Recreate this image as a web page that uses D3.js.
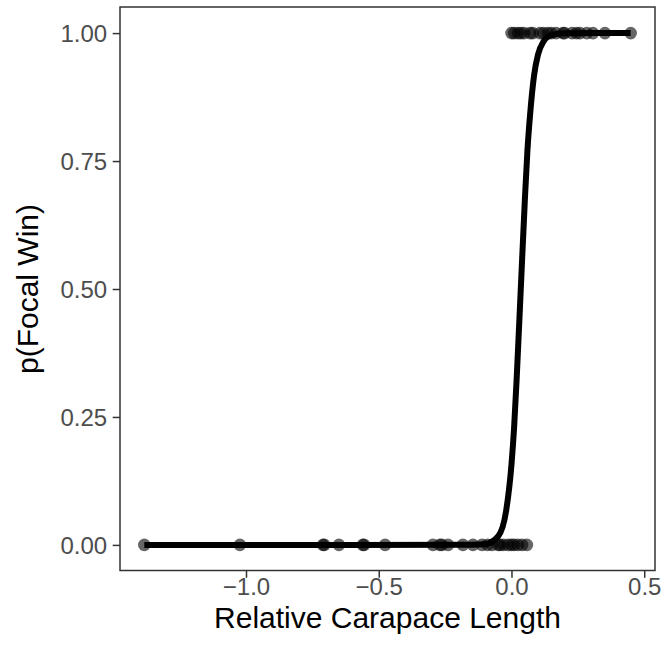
<!DOCTYPE html>
<html>
<head>
<meta charset="utf-8">
<script src="https://cdn.jsdelivr.net/npm/d3@7"></script>
<style>
  html, body { margin: 0; padding: 0; background: #fff; }
  svg { display: block; font-family: "Liberation Sans", Arial, Helvetica, sans-serif; }
</style>
</head>
<body>
<svg id="chart" width="666" height="650"></svg>
<script>
// Observed outcomes: relative carapace length for losses (0) and wins (1)
const lossX = [-1.383, -1.023, -0.71, -0.705, -0.65, -0.56, -0.555, -0.476, -0.296, -0.27, -0.262, -0.239, -0.183, -0.145, -0.111, -0.09, -0.073, -0.05, -0.043, -0.03, -0.013, 0.0, 0.01, 0.024, 0.04, 0.058];
const winX = [0.0, 0.01, 0.024, 0.035, 0.047, 0.07, 0.08, 0.107, 0.12, 0.137, 0.15, 0.168, 0.194, 0.2, 0.228, 0.245, 0.258, 0.284, 0.307, 0.352, 0.449];
// Fitted probability curve
const curveX = [-1.383, -0.6, -0.2, -0.1, -0.05, -0.02, 0.0, 0.01, 0.02, 0.035, 0.05, 0.06, 0.07, 0.085, 0.1, 0.12, 0.15, 0.2, 0.3, 0.449];
const curveP = [0.0, 0.0, 0.0001, 0.0015, 0.017, 0.067, 0.157, 0.23, 0.33, 0.5, 0.67, 0.77, 0.84, 0.917, 0.958, 0.983, 0.996, 0.9995, 1.0, 1.0];
const xTicks = [-1.0, -0.5, 0.0, 0.5];
const yTicks = [0.00, 0.25, 0.50, 0.75, 1.00];

const svg = d3.select("#chart");
const L = 120, R = 655, T = 7.5, B = 570.5;

const allX = lossX.concat(winX, curveX);
const xmin = d3.min(allX), xmax = d3.max(allX);
const xpad = (xmax - xmin) * 0.05;
const x = d3.scaleLinear().domain([xmin - xpad, xmax + xpad]).range([L, R]);
const y = d3.scaleLinear().domain([-0.05, 1.05]).range([B, T]);

// points
const pts = lossX.map(v => ({x: v, y: 0})).concat(winX.map(v => ({x: v, y: 1})));
svg.append("g").selectAll("circle").data(pts).join("circle")
  .attr("cx", d => x(d.x)).attr("cy", d => y(d.y)).attr("r", 6.3)
  .attr("fill", "#000").attr("fill-opacity", 0.6);

// curve
const line = d3.line().x(d => x(d[0])).y(d => y(d[1])).curve(d3.curveMonotoneX);
svg.append("path").datum(curveX.map((v, i) => [v, curveP[i]]))
  .attr("d", line).attr("fill", "none").attr("stroke", "#000")
  .attr("stroke-width", 6).attr("stroke-linecap", "butt").attr("stroke-linejoin", "round");

// panel border
svg.append("rect").attr("x", L).attr("y", T - 0.5).attr("width", R - L).attr("height", B - T + 0.5)
  .attr("fill", "none").attr("stroke", "#333").attr("stroke-width", 1.5);

const fmtX = v => (v < 0 ? "\u2212" : "") + Math.abs(v).toFixed(1);
const xAxis = d3.axisBottom(x).tickValues(xTicks).tickSize(7.3).tickPadding(4).tickFormat(fmtX);
const gx = svg.append("g").attr("transform", `translate(0,${B})`).call(xAxis);
gx.select(".domain").remove();
gx.selectAll(".tick line").attr("stroke", "#333").attr("stroke-width", 1.5);
gx.selectAll(".tick text").attr("fill", "#4D4D4D").style("font-size", "24px").attr("dy", "0.55em");

const yAxis = d3.axisLeft(y).tickValues(yTicks).tickSize(7.3).tickPadding(5.5).tickFormat(d3.format(".2f"));
const gy = svg.append("g").attr("transform", `translate(${L},0)`).call(yAxis);
gy.select(".domain").remove();
gy.selectAll(".tick line").attr("stroke", "#333").attr("stroke-width", 1.5);
gy.selectAll(".tick text").attr("fill", "#4D4D4D").style("font-size", "24px").attr("dy", "0.35em");

svg.append("text").attr("x", (L + R) / 2).attr("y", 628).attr("text-anchor", "middle")
  .attr("fill", "#000").style("font-size", "30px").text("Relative Carapace Length");
svg.append("text").attr("transform", `translate(38,${(T + B) / 2}) rotate(-90)`)
  .attr("text-anchor", "middle").attr("fill", "#000").style("font-size", "30px").text("p(Focal Win)");
</script>
</body>
</html>
